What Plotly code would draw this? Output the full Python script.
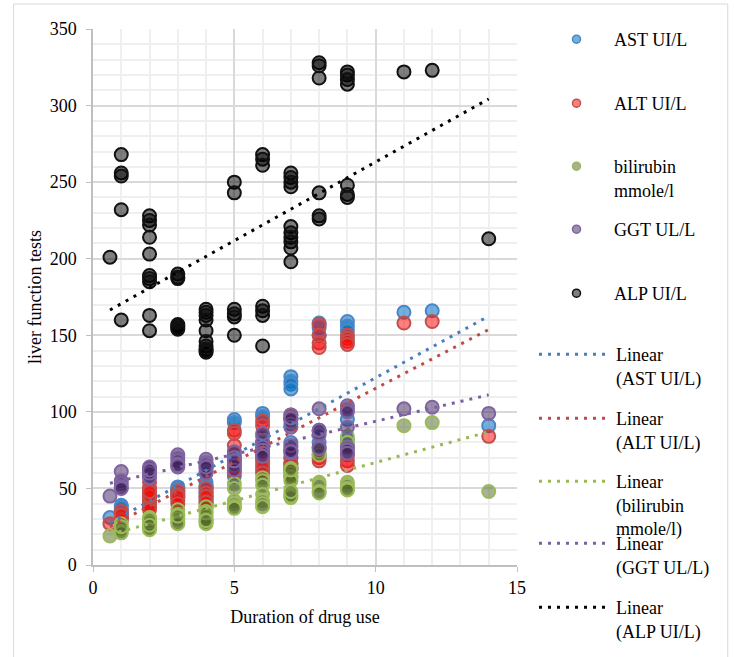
import numpy as np
import plotly.graph_objects as go

durations = [0.6, 1, 2, 3, 4, 5, 6, 7, 8, 9, 11, 12, 14]

ast_values = [
    [31],
    [39, 36, 34, 33, 38],
    [48, 45, 42, 40, 44, 38, 50, 46, 41, 43],
    [51, 50, 48, 46, 44, 49],
    [54, 52, 50, 48, 45, 43, 47, 51],
    [95, 93, 72, 68, 62, 58],
    [99, 97, 80, 75, 70, 66, 62],
    [123, 120, 118, 115, 96, 80, 75, 70, 66, 63],
    [158, 155, 150, 88, 80, 72],
    [159, 156, 153, 95, 82, 78, 72],
    [165], [166], [91],
]

alt_values = [
    [27],
    [35, 32, 30, 29, 33],
    [54, 50, 47, 44, 42, 40, 38, 45, 48, 36],
    [48, 46, 44, 42, 45, 40],
    [50, 47, 44, 42, 40, 38, 45, 41],
    [88, 86, 78, 70, 64, 60],
    [94, 91, 77, 72, 68, 64, 60],
    [98, 95, 70, 67, 64, 62, 60, 58, 66, 63],
    [157, 150, 145, 142, 70, 68],
    [150, 148, 146, 144, 72, 68, 65],
    [158], [159], [84],
]

bilirubin_values = [
    [19],
    [27, 24, 22, 21, 25],
    [31, 29, 27, 26, 25, 24, 28, 30, 23, 26],
    [36, 33, 30, 28, 27, 32],
    [38, 35, 32, 30, 28, 27, 34, 29],
    [53, 50, 42, 40, 38, 37],
    [57, 55, 52, 46, 42, 40, 38],
    [60, 58, 57, 55, 46, 44, 63, 62, 45, 48],
    [74, 72, 54, 52, 48, 47],
    [84, 80, 76, 54, 52, 50, 49],
    [91], [93], [48],
]

ggt_values = [
    [45],
    [61, 55, 53, 51, 50],
    [63, 62, 61, 60, 59, 58, 57, 64, 60, 62],
    [72, 70, 68, 66, 64, 65],
    [69, 67, 65, 63, 61, 60, 66, 64],
    [74, 70, 67, 65, 62, 68],
    [84, 80, 77, 75, 73, 71, 86],
    [98, 95, 92, 77, 75, 73, 90, 78, 74, 96],
    [102, 87, 85, 77, 76, 88],
    [104, 102, 100, 77, 75, 73, 90],
    [102], [103], [99],
]

alp_values = [
    [201],
    [268, 256, 254, 232, 160],
    [228, 225, 222, 214, 203, 189, 187, 185, 163, 153],
    [190, 188, 187, 157, 156, 155, 154],
    [167, 165, 163, 160, 153, 146, 143, 141, 140, 139],
    [250, 243, 167, 164, 162, 150],
    [268, 265, 261, 169, 166, 163, 143],
    [256, 253, 250, 247, 221, 217, 214, 211, 207, 198],
    [328, 326, 318, 243, 228, 226],
    [322, 320, 317, 314, 248, 242, 240],
    [322], [323], [213],
]

series_names = ["AST UI/L", "ALT UI/L", "bilirubin<br>mmole/l", "GGT UL/L", "ALP UI/L"]
trend_names = ["Linear<br>(AST UI/L)", "Linear<br>(ALT UI/L)", "Linear<br>(bilirubin<br>mmole/l)",
               "Linear<br>(GGT UL/L)", "Linear<br>(ALP UI/L)"]

fills = ["rgba(0,112,192,0.55)", "rgba(255,0,0,0.5)", "rgba(80,100,40,0.5)",
         "rgba(60,30,90,0.5)", "rgba(0,0,0,0.5)"]
edges = ["#4a86c8", "#c0504d", "#9bbb59", "#8064a2", "#111111"]
trend_colors = ["#4a7ebb", "#be4b48", "#98b954", "#7d60a0", "#000000"]

FONT = "Liberation Serif, Times New Roman, serif"

W, H = 734, 657
L, R, T, B = 92.5, 517.0, 29.0, 565.0


def flatten(groups):
    xs, ys = [], []
    for d, vals in zip(durations, groups):
        for v in vals:
            xs.append(d)
            ys.append(v)
    return np.array(xs, float), np.array(ys, float)


fig = go.Figure()
all_series = [ast_values, alt_values, bilirubin_values, ggt_values, alp_values]
fits = []
for i, groups in enumerate(all_series):
    xs, ys = flatten(groups)
    fig.add_trace(go.Scatter(
        x=xs, y=ys, mode="markers", showlegend=False, hoverinfo="x+y",
        marker=dict(size=13, color=fills[i], line=dict(color=edges[i], width=2)),
    ))
    fits.append((xs, ys))

for i, (xs, ys) in enumerate(fits):
    m, c = np.polyfit(xs, ys, 1)
    xe = np.array([xs.min(), xs.max()])
    fig.add_trace(go.Scatter(
        x=xe, y=m * xe + c, mode="lines", name=trend_names[i],
        line=dict(color=trend_colors[i], width=3, dash="3px,6px"),
        legend="legend%d" % (i + 6), showlegend=True, hoverinfo="skip",
    ))

# legend proxies for the marker series (small symbols like the original)
for i in range(5):
    fig.add_trace(go.Scatter(
        x=[None], y=[None], mode="markers", name=series_names[i],
        marker=dict(size=8, color=fills[i], line=dict(color=edges[i], width=1.5)),
        legend=("legend" if i == 0 else "legend%d" % (i + 1)),
    ))

centers = [38, 102, 165, 228, 292, 353, 417, 480, 542, 606]
legends = {}
for k, c in enumerate(centers):
    key = "legend" if k == 0 else "legend%d" % (k + 1)
    is_line = k >= 5
    legends[key] = dict(
        xref="container", yref="container",
        x=(534 if is_line else 539) / W, y=1 - (c - 17) / H,
        xanchor="left", yanchor="top", itemwidth=(72 if is_line else 65), valign="top",
        font=dict(family=FONT, size=18, color="#000000"),
        bgcolor="rgba(0,0,0,0)", borderwidth=0,
    )

fig.update_layout(
    width=W, height=H,
    margin=dict(l=L, r=W - R, t=T, b=H - B, pad=0),
    paper_bgcolor="white", plot_bgcolor="white",
    font=dict(family=FONT, size=18, color="#000000"),
    **legends,
    shapes=[dict(type="rect", xref="paper", yref="paper",
                 x0=(13 - L) / (R - L), x1=(728 - L) / (R - L),
                 y0=(B - 700) / (B - T), y1=(B - 4) / (B - T),
                 line=dict(color="#d9d9d9", width=1), fillcolor="rgba(0,0,0,0)", layer="below")],
)

fig.update_xaxes(
    range=[0, 15], dtick=5, tick0=0, showgrid=True, gridcolor="#d9d9d9", gridwidth=1.5,
    minor=dict(dtick=1, showgrid=True, gridcolor="#efefef", gridwidth=1.5),
    showline=True, linecolor="#bfbfbf", linewidth=1.5, ticks="outside", ticklen=5,
    tickcolor="#bfbfbf", zeroline=False, automargin=False, ticklabelstandoff=1,
    tickfont=dict(size=18, family=FONT),
    title=dict(text="Duration of drug use", font=dict(size=18, family=FONT), standoff=13),
)
fig.update_yaxes(
    range=[0, 350], dtick=50, tick0=0, showgrid=True, gridcolor="#d9d9d9", gridwidth=1.5,
    minor=dict(dtick=10, showgrid=True, gridcolor="#efefef", gridwidth=1.5),
    showline=True, linecolor="#bfbfbf", linewidth=1.5, ticks="outside", ticklen=5,
    tickcolor="#bfbfbf", zeroline=False, automargin=False, ticklabelstandoff=6,
    tickfont=dict(size=18, family=FONT),
    title=dict(text="liver function tests", font=dict(size=18, family=FONT), standoff=3),
)

fig.write_html("out.html", config={"displayModeBar": False},
               post_script="document.body.style.margin='0';")
